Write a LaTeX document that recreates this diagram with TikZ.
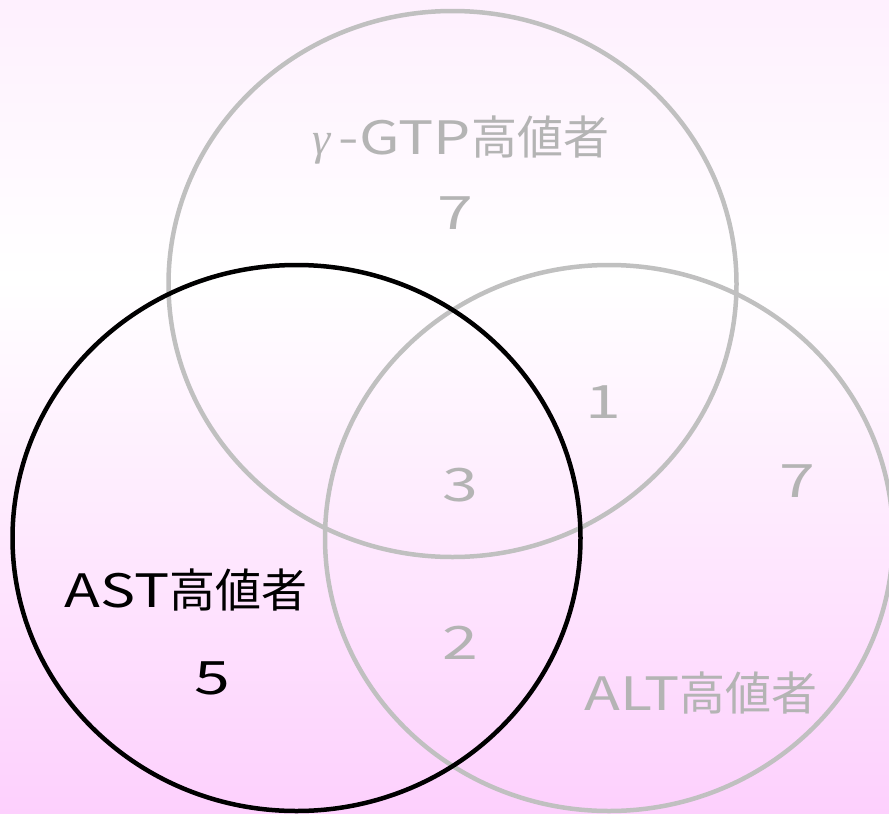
\documentclass[tikz,border=0pt]{standalone}
\usepackage{fontspec}
\newfontfamily\jp{Noto Sans CJK JP}
\newfontfamily\gam{Liberation Serif}
\newcommand\widelat[1]{\scalebox{1.28}[1]{#1}}
\newcommand\widedig[1]{\scalebox{1.4}[1]{#1}}
\usetikzlibrary{shapes.geometric}
\definecolor{bgtop}{RGB}{254,240,254}
\definecolor{bgbot}{RGB}{253,208,253}
\definecolor{ringgray}{RGB}{192,192,192}
\definecolor{txtgray}{RGB}{180,180,180}
\tikzset{
  ring/.style={ellipse, draw=ringgray, line width=4.5pt, minimum width=568pt, minimum height=546pt, inner sep=0pt},
  blackring/.style={ring, draw=black},
  lbl/.style={font=\jp\fontsize{46}{50}\selectfont, text=txtgray, inner sep=0pt, anchor=center},
  blbl/.style={lbl, text=black}
}
\begin{document}
\begin{tikzpicture}[x=1pt,y=-1pt]
\useasboundingbox (0,0) rectangle (889,814);
\shade[top color=bgtop, bottom color=white] (0,0) rectangle (889,280);
\shade[top color=white, bottom color=bgbot] (0,279.5) rectangle (889,814);
\node[ring] (gtp) at (452.5,284) {};
\node[ring] (alt) at (609,538) {};
\node[blackring] (ast) at (296.5,538) {};
\node[lbl] (gtplabel) at (461,140) {{\gam\itshape γ}\,\widelat{-GTP}高値者};
\node[lbl] (n7a) at (455,213) {\widedig{7}};
\node[lbl] (n1) at (603,402) {\widedig{1}};
\node[lbl] (n3) at (460,485) {\widedig{3}};
\node[lbl] (n7b) at (797,481) {\widedig{7}};
\node[lbl] (n2) at (460,643) {\widedig{2}};
\node[lbl] (altlabel) at (701,693) {\widelat{ALT}高値者};
\node[blbl] (astlabel) at (186,590) {\widelat{AST}高値者};
\node[blbl] (n5) at (212,678) {\widedig{5}};
\end{tikzpicture}
\end{document}
